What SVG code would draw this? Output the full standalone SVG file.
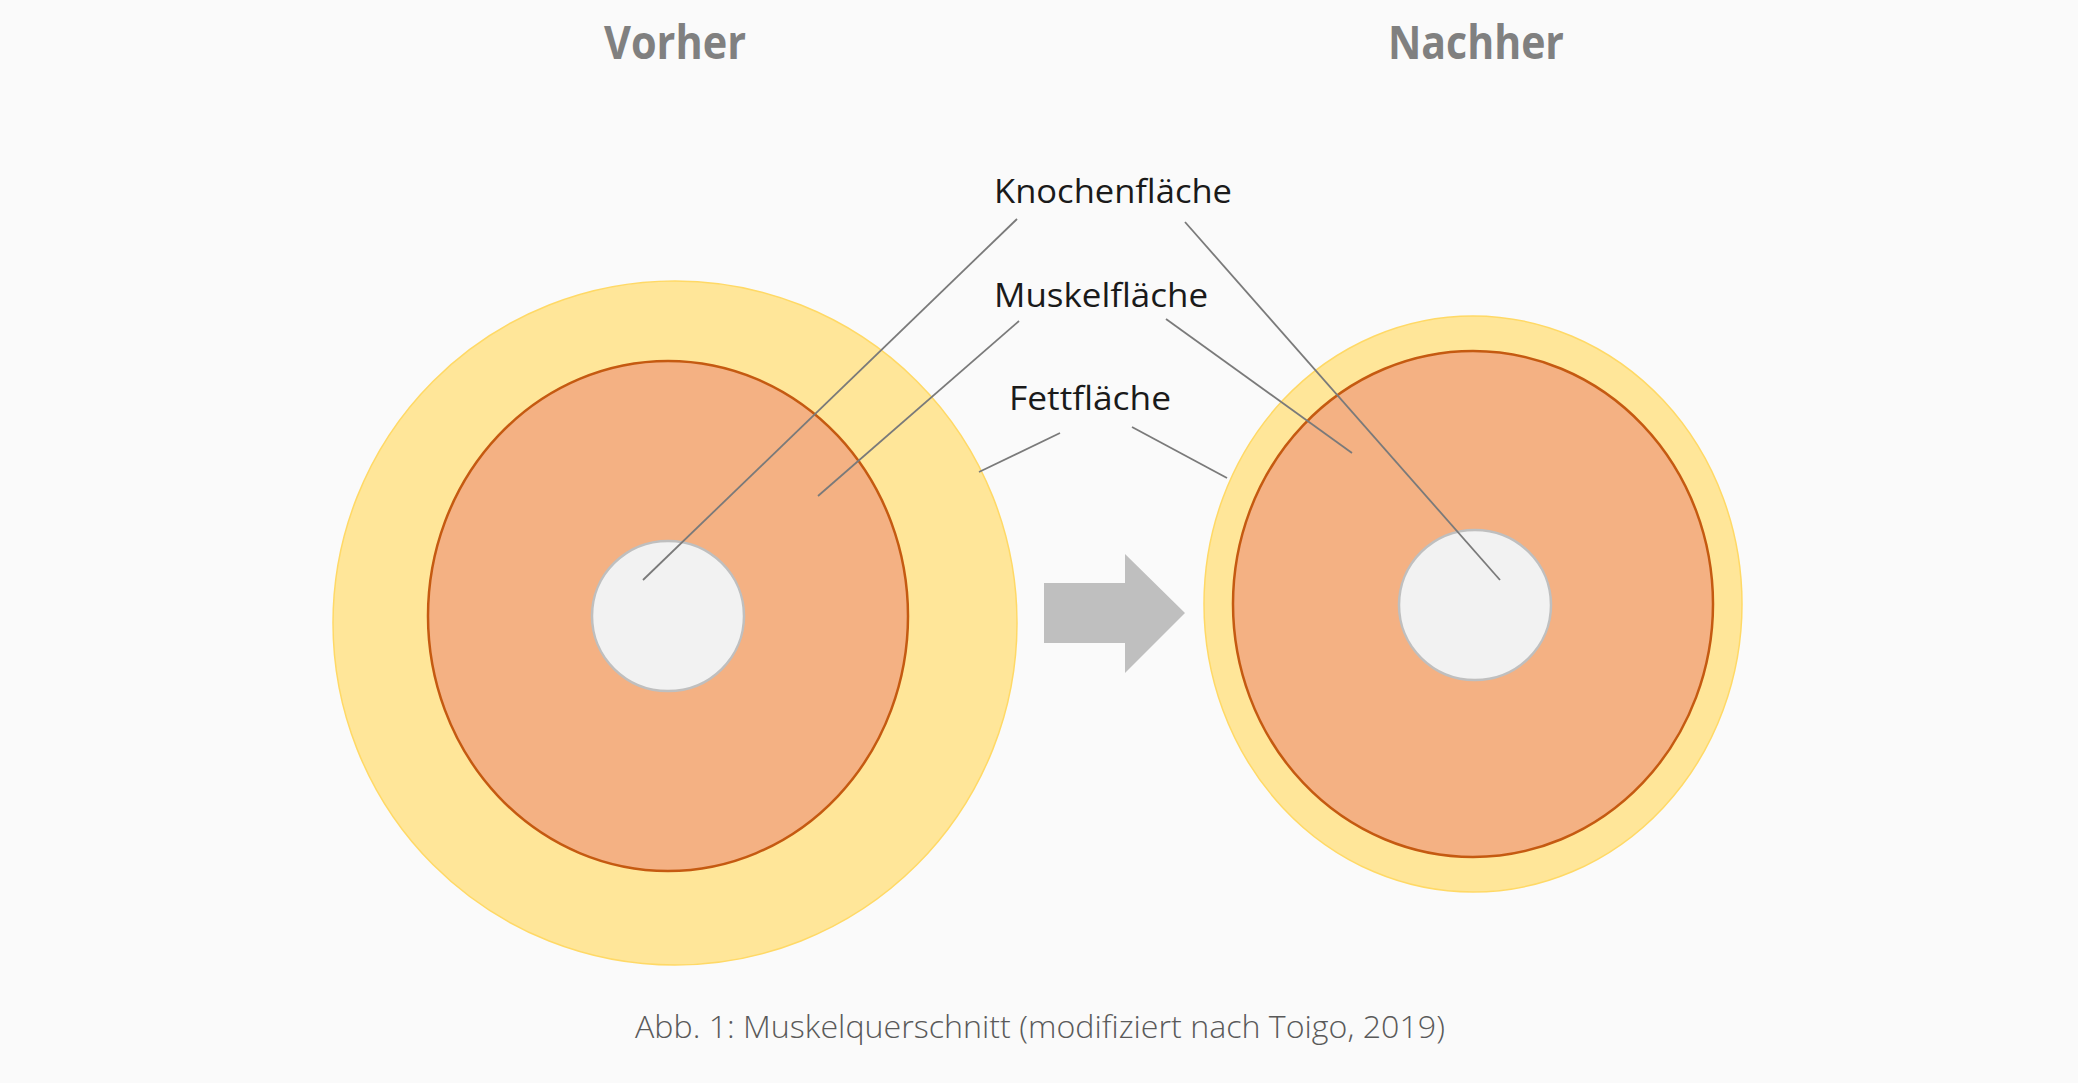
<svg xmlns="http://www.w3.org/2000/svg" width="2078" height="1083" viewBox="0 0 2078 1083">
<style>
.title{font-family:"Open Sans","Noto Sans","Liberation Sans",sans-serif;font-weight:700;font-size:46px;fill:#808080;text-anchor:middle}
.lbl{font-family:"Open Sans","Noto Sans","Liberation Sans",sans-serif;font-size:32px;fill:#1a1a1a}
.cap{font-family:"Open Sans","Noto Sans","Liberation Sans",sans-serif;font-weight:300;font-size:31px;fill:#595959}
.fat{fill:#FFE699;stroke:#FFD966;stroke-width:1.5}
.mus{fill:#F4B183;stroke:#C55A11;stroke-width:2.5}
.bone{fill:#F2F2F2;stroke:#BFBFBF;stroke-width:2.5}
.ln{stroke:#7a7a7a;stroke-width:1.8;fill:none}
</style>
<rect width="2078" height="1083" fill="#FAFAFA"/>
<g id="title-vorher"><text class="title" x="675" y="59" textLength="142" lengthAdjust="spacingAndGlyphs">Vorher</text></g>
<g id="title-nachher"><text class="title" x="1476" y="59" textLength="176" lengthAdjust="spacingAndGlyphs">Nachher</text></g>
<g id="vorher">
<circle class="fat" cx="675" cy="623" r="342"/>
<ellipse class="mus" cx="668" cy="616" rx="240" ry="255"/>
<ellipse class="bone" cx="668" cy="616" rx="76" ry="75"/>
</g>
<g id="nachher">
<ellipse class="fat" cx="1473" cy="604" rx="269" ry="288"/>
<ellipse class="mus" cx="1473" cy="604" rx="240" ry="253"/>
<ellipse class="bone" cx="1475" cy="605" rx="76" ry="75"/>
</g>
<g id="arrow"><polygon points="1044,583 1125,583 1125,554 1185,613 1125,673 1125,643 1044,643" fill="#BFBFBF"/></g>
<g id="label-knochen"><text class="lbl" x="994" y="203" textLength="238" lengthAdjust="spacingAndGlyphs">Knochenfläche</text></g>
<g id="label-muskel"><text class="lbl" x="994" y="307" textLength="214" lengthAdjust="spacingAndGlyphs">Muskelfläche</text></g>
<g id="label-fett"><text class="lbl" x="1009" y="410" textLength="162" lengthAdjust="spacingAndGlyphs">Fettfläche</text></g>
<g id="connectors">
<line class="ln" x1="1017" y1="219" x2="643" y2="580"/>
<line class="ln" x1="1185" y1="222" x2="1500" y2="580"/>
<line class="ln" x1="1019" y1="321" x2="818" y2="496"/>
<line class="ln" x1="1166" y1="319" x2="1352" y2="453"/>
<line class="ln" x1="1060" y1="433" x2="979" y2="472"/>
<line class="ln" x1="1132" y1="427" x2="1227" y2="478"/>
</g>
<g id="caption"><text class="cap" x="635" y="1038" textLength="810" lengthAdjust="spacingAndGlyphs">Abb. 1: Muskelquerschnitt (modifiziert nach Toigo, 2019)</text></g>
</svg>
